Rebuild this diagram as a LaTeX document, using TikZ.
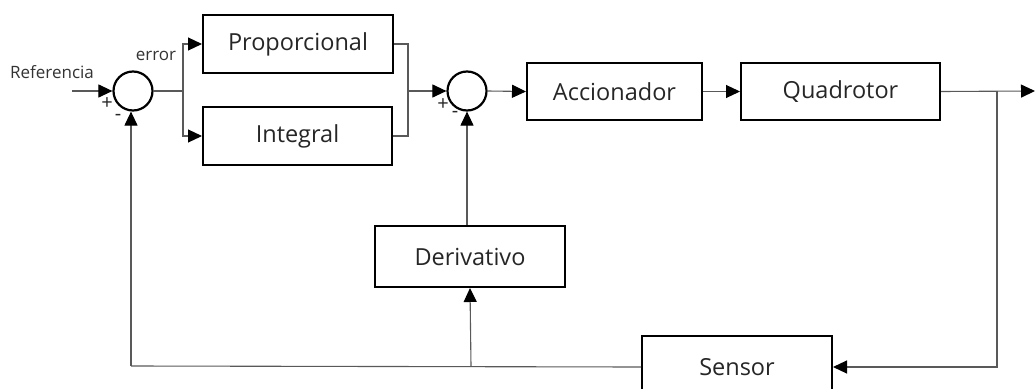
\documentclass[tikz,border=0pt]{standalone}
\usepackage{fontspec}
\setmainfont{Open Sans}
\usetikzlibrary{arrows.meta}
\begin{document}
\begin{tikzpicture}[x=1pt,y=-1pt,
  blk/.style={draw=black,line width=2pt,minimum width=#1,inner sep=0pt,text=black!85,font=\fontsize{23.5}{26}\selectfont},
  sumc/.style={draw=black,line width=2.2pt,circle,minimum size=39pt,inner sep=0pt},
  wire/.style={draw=black!65,line width=1.1pt},
  arr/.style={wire,-{Triangle[length=14pt,width=13pt,fill=black,color=black]}},
  lbl/.style={font=\fontsize{17}{19}\selectfont,inner sep=0pt,text=black!80},
  sgn/.style={font=\fontsize{20}{21}\selectfont,inner sep=0pt,text=black!85}]
\useasboundingbox (0,0) rectangle (1035,388);
\clip (0,0) rectangle (1035,388);

% summing junctions
\node[sumc] (s1) at (133,91) {};
\node[sumc] (s2) at (467,91) {};

% blocks
\node[blk=190pt,minimum height=58pt] (prop) at (298,44) {Proporcional};
\node[blk=189pt,minimum height=58pt] (integ) at (297.5,136) {Integral};
\node[blk=175pt,minimum height=57pt] (acc) at (614.5,91.5) {Accionador};
\node[blk=199pt,minimum height=57pt] (quad) at (840.5,91.5) {Quadrotor};
\node[blk=190pt,minimum height=61pt] (deriv) at (470,256.5) {Derivativo};
\node[blk=190pt,minimum height=62pt] (sens) at (737,367) {Sensor};

% junction points
\coordinate (in) at (72,91);
\coordinate (e1) at (183,91);
\coordinate (m1) at (408,91);
\coordinate (ob) at (997,91);
\coordinate (out) at (1035,91);
\coordinate (fb) at (131,366);
\coordinate (fd) at (471,366);

% labels
\node[lbl] (ref) at (52,72) {Referencia};
\node[lbl] (err) at (156,56) {error};
\node[sgn] (p1) at (107,104) {+};
\node[sgn] (n1) at (118,117) {-};
\node[sgn] (p2) at (443,105) {+};
\node[sgn] (n2) at (455,114) {-};

% forward path
\draw[arr] (in) -- (s1.west);
\draw[wire] (s1.east) -- (e1);
\draw[arr] (e1) |- (prop.west);
\draw[arr] (e1) |- (integ.west);
\draw[wire] (prop.east) -| (m1 |- integ.east) -- (integ.east);
\draw[arr] (m1) -- (s2.west);
\draw[arr] (s2.east) -- (acc.west);
\draw[arr] (acc.east) -- (quad.west);
\draw[arr] (quad.east) -- (out);

% feedback paths
\draw[arr] (ob) |- (sens.east);
\draw[wire] (sens.west) -- (fb);
\draw[arr] (fb) -- (fb |- s1.south);
\draw[arr] (fd) -- (deriv.south);
\draw[arr] (deriv.north -| s2.south) -- (s2.south);
\end{tikzpicture}
\end{document}
